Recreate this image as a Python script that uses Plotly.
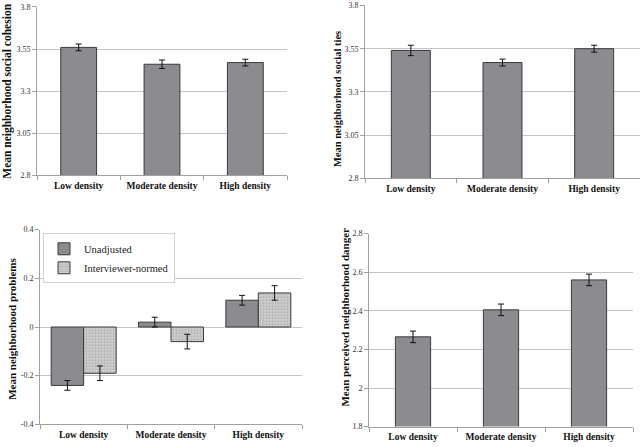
import plotly.graph_objects as go

categories = ["Low density", "Moderate density", "High density"]

cohesion = [3.56, 3.46, 3.47]
cohesion_err = [0.02, 0.025, 0.02]

ties = [3.54, 3.47, 3.55]
ties_err = [0.03, 0.02, 0.02]

problems_unadj = [-0.24, 0.02, 0.11]
problems_unadj_err = [0.02, 0.02, 0.02]
problems_norm = [-0.19, -0.06, 0.14]
problems_norm_err = [0.03, 0.03, 0.03]

danger = [2.265, 2.405, 2.56]
danger_err = [0.03, 0.03, 0.03]

BAR = "#8c8c90"
EDGE = "#3a3a3a"
GRID = "#c4c4c4"
AXIS = "#a0a0a0"
SERIF = "Liberation Serif"

fig = go.Figure()

def err(vals):
    return dict(type="data", array=vals, color="#111", thickness=1, width=3)

fig.add_trace(go.Bar(x=categories, y=cohesion, error_y=err(cohesion_err), width=0.43,
                     marker=dict(color=BAR, line=dict(color=EDGE, width=1)),
                     showlegend=False, xaxis="x", yaxis="y"))
fig.add_trace(go.Bar(x=categories, y=ties, error_y=err(ties_err), width=0.425,
                     marker=dict(color=BAR, line=dict(color=EDGE, width=1)),
                     showlegend=False, xaxis="x2", yaxis="y2"))
fig.add_trace(go.Bar(x=categories, y=problems_unadj, error_y=err(problems_unadj_err),
                     width=0.372, offset=-0.372, name="Unadjusted",
                     marker=dict(color=BAR, line=dict(color=EDGE, width=1)),
                     xaxis="x3", yaxis="y3"))
fig.add_trace(go.Bar(x=categories, y=problems_norm, error_y=err(problems_norm_err),
                     width=0.372, offset=0.0, name="Interviewer-normed",
                     marker=dict(color="#dcdcdc", line=dict(color=EDGE, width=1),
                                 pattern=dict(shape=".", fgcolor="#8a8a8a", bgcolor="#dcdcdc",
                                              size=3, solidity=0.6)),
                     xaxis="x3", yaxis="y3"))
fig.add_trace(go.Bar(x=categories, y=danger, error_y=err(danger_err), width=0.40,
                     marker=dict(color=BAR, line=dict(color=EDGE, width=1)),
                     showlegend=False, xaxis="x4", yaxis="y4"))

W, H = 640, 447
def xd(a, b):
    return [a / W, b / W]
def yd(top, bottom):
    return [1 - bottom / H, 1 - top / H]

xcommon = dict(showgrid=False, showline=True, linecolor=AXIS, linewidth=1,
               ticks="outside", tickson="boundaries", ticklen=4, tickcolor=AXIS,
               tickangle=0, ticklabelstandoff=1,
               tickfont=dict(family=SERIF, size=9.5, color="#111", weight="bold"), zeroline=False)
ycommon = dict(showgrid=True, gridcolor=GRID, gridwidth=1, showline=True, linecolor=AXIS,
               linewidth=1, ticks="outside", ticklen=4, tickcolor=AXIS,
               tickfont=dict(family=SERIF, size=8, color="#333"), zeroline=False)

fig.update_layout(
    width=W, height=H, margin=dict(l=0, r=0, t=0, b=0),
    font=dict(family=SERIF),
    paper_bgcolor="white", plot_bgcolor="white", barmode="overlay",
    xaxis=dict(domain=xd(37, 287), anchor="y", **xcommon),
    yaxis=dict(domain=yd(3, 175), anchor="x", range=[2.8, 3.8],
               tickvals=[2.8, 3.05, 3.3, 3.55, 3.8], ticktext=["2.8", "3.05", "3.3", "3.55", "3.8"],
               **ycommon),
    xaxis2=dict(domain=xd(365, 640), anchor="y2", **xcommon),
    yaxis2=dict(domain=yd(1.5, 178), anchor="x2", range=[2.8, 3.8],
                tickvals=[2.8, 3.05, 3.3, 3.55, 3.8], ticktext=["2.8", "3.05", "3.3", "3.55", "3.8"],
                **ycommon),
    xaxis3=dict(domain=xd(40, 302), anchor="y3", **xcommon),
    yaxis3=dict(domain=yd(230.3, 429), anchor="x3", range=[-0.4, 0.4],
                tickvals=[-0.4, -0.2, 0, 0.2, 0.4], ticktext=["-0.4", "-0.2", "0", "0.2", "0.4"],
                **ycommon),
    xaxis4=dict(domain=xd(369, 633), anchor="y4", **xcommon),
    yaxis4=dict(domain=yd(234.3, 431.3), anchor="x4", range=[1.8, 2.8],
                tickvals=[1.8, 2.0, 2.2, 2.4, 2.6, 2.8], ticktext=["1.8", "2", "2.2", "2.4", "2.6", "2.8"],
                **ycommon),
    legend=dict(x=43 / W, y=1 - 234 / H, xanchor="left", yanchor="top",
                bgcolor="white", bordercolor="#d0d0d0", borderwidth=1,
                font=dict(family=SERIF, size=10.5, color="#222"), tracegroupgap=0,
                itemwidth=30),
    showlegend=True,
)

titles = [
    ("Mean neighborhood social cohesion", 7.5, (3 + 175) / 2, 11.5),
    ("Mean neighborhood social ties", 337, 97, 10.5),
    ("Mean neighborhood problems", 12.5, 332, 11),
    ("Mean perceived neighborhood danger", 345, 320, 11),
]
for text, px, py, size in titles:
    fig.add_annotation(text="<b>%s</b>" % text, x=px / W, y=1 - py / H, xref="paper", yref="paper",
                       textangle=-90, showarrow=False, xanchor="center", yanchor="middle",
                       font=dict(family=SERIF, size=size, color="#111"))

fig.write_html("out.html", config={"displayModeBar": False},
               post_script="document.body.style.margin='0px';")
